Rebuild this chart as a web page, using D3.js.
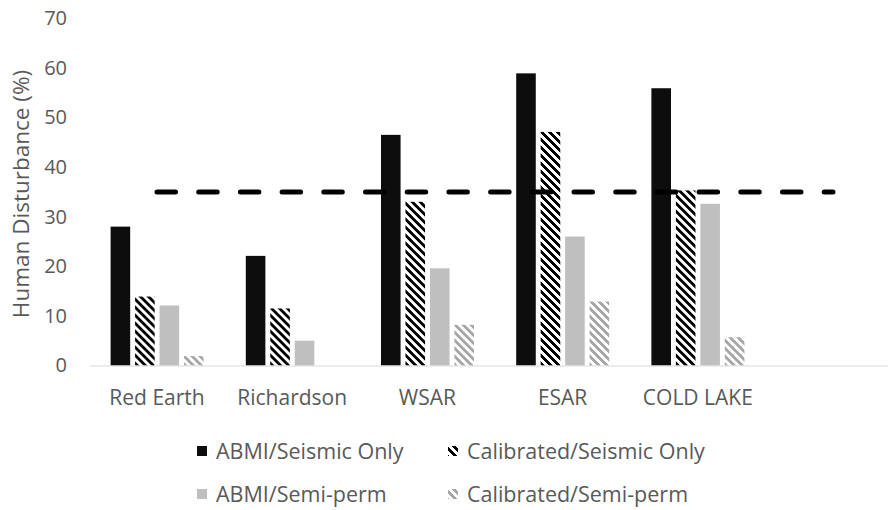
<!DOCTYPE html>
<html>
<head>
<meta charset="utf-8">
<script src="https://cdn.jsdelivr.net/npm/d3@7"></script>
<style>
  html, body { margin: 0; padding: 0; background: #fff; }
  svg { display: block; font-family: "Open Sans", Lato, sans-serif; }
</style>
</head>
<body>
<svg id="chart" width="888" height="510"></svg>
<script>
// Regions along the x axis (the last slot is empty; the threshold line runs to it)
const categories = ["Red Earth", "Richardson", "WSAR", "ESAR", "COLD LAKE", ""];
const seriesNames = ["ABMI/Seismic Only", "Calibrated/Seismic Only", "ABMI/Semi-perm", "Calibrated/Semi-perm"];

// Human disturbance (%) per region, one array per series
const abmiSeismic       = [28.0, 22.1, 46.5, 58.9, 55.9, null];
const calibratedSeismic = [13.9, 11.5, 33.0, 47.1, 35.3, null];
const abmiSemiPerm      = [12.1, 5.0, 19.6, 26.0, 32.6, null];
const calibratedSemi    = [1.9, 0, 8.2, 12.9, 5.7, null];

// Disturbance threshold line
const threshold = [35, 35, 35, 35, 35, 35];

const yTicks = [0, 10, 20, 30, 40, 50, 60, 70];

const seriesValues = [abmiSeismic, calibratedSeismic, abmiSemiPerm, calibratedSemi];
const fills = ["#0d0d0d", "url(#hatchDark)", "#bfbfbf", "url(#hatchLight)"];
const textColor = "#595959";
const font = "'Open Sans', Lato, sans-serif";

const svg = d3.select("#chart");

// Diagonal hatch patterns
const defs = svg.append("defs");
function hatch(id, color) {
  const p = defs.append("pattern")
    .attr("id", id)
    .attr("patternUnits", "userSpaceOnUse")
    .attr("width", 8).attr("height", 8);
  p.append("rect").attr("width", 8).attr("height", 8).attr("fill", "#fff");
  p.append("path")
    .attr("d", "M0,0 L4,0 L8,4 L8,8 Z M0,4 L4,8 L0,8 Z")
    .attr("fill", color)
    .attr("shape-rendering", "crispEdges");
}
hatch("hatchDark", "#000");
hatch("hatchLight", "#a6a6a6");

const x0 = d3.scaleBand().domain(categories).range([89.4, 900.6]).padding(0);
const x1 = d3.scaleBand().domain(seriesNames).range([21.2, 114.2]).paddingInner(0.2);
const y = d3.scaleLinear().domain([0, 70]).range([365.5, 18.3]);

// Y axis tick labels
const yAxis = svg.append("g")
  .attr("transform", "translate(89,0)")
  .call(d3.axisLeft(y).tickValues(yTicks).tickSize(0).tickPadding(22));
yAxis.select(".domain").remove();
yAxis.selectAll("text")
  .attr("fill", textColor)
  .style("font-size", "20px")
  .style("font-family", font);

// Y axis title
svg.append("text")
  .attr("transform", "translate(29,194) rotate(-90)")
  .attr("text-anchor", "middle")
  .attr("fill", textColor)
  .style("font-size", "22.5px")
  .style("font-family", font)
  .text("Human Disturbance (%)");

// Bars
const groups = svg.append("g").selectAll("g")
  .data(categories)
  .join("g")
  .attr("transform", d => `translate(${x0(d)},0)`);

groups.selectAll("rect")
  .data((c, i) => seriesNames.map((s, k) => ({ s, k, v: seriesValues[k][i] })).filter(d => d.v))
  .join("rect")
  .attr("x", d => x1(d.s))
  .attr("width", x1.bandwidth())
  .attr("y", d => y(d.v))
  .attr("height", d => y(0) - y(d.v))
  .attr("fill", d => fills[d.k]);

// X axis baseline and category labels
const xAxis = svg.append("g")
  .attr("transform", `translate(0,${y(0)})`)
  .call(d3.axisBottom(x0).tickSize(0).tickPadding(25));
xAxis.select(".domain").attr("stroke", "#d9d9d9").attr("stroke-width", 1.2);
xAxis.selectAll("text")
  .attr("fill", textColor)
  .style("font-size", "21px")
  .style("font-family", font);

// Threshold dashed line
const line = d3.line()
  .x((d, i) => x0(categories[i]) + x0.bandwidth() / 2)
  .y(d => y(d));
svg.append("path")
  .datum(threshold)
  .attr("d", line)
  .attr("fill", "none")
  .attr("stroke", "#000")
  .attr("stroke-width", 5)
  .attr("stroke-linecap", "round")
  .attr("stroke-dasharray", "18.5 23.2");

// Legend
const legendPos = [
  { x: 197, y: 451 }, { x: 448, y: 451 },
  { x: 197, y: 494 }, { x: 448, y: 494 }
];
const legend = svg.append("g").selectAll("g")
  .data(seriesNames)
  .join("g")
  .attr("transform", (d, i) => `translate(${legendPos[i].x},${legendPos[i].y})`);
legend.append("rect")
  .attr("x", 0).attr("y", -5)
  .attr("width", 10).attr("height", 10)
  .attr("fill", (d, i) => fills[i]);
legend.append("text")
  .attr("x", 19).attr("y", 0)
  .attr("dy", "0.35em")
  .attr("fill", textColor)
  .style("font-size", "21.5px")
  .style("font-family", font)
  .text(d => d);
</script>
</body>
</html>
